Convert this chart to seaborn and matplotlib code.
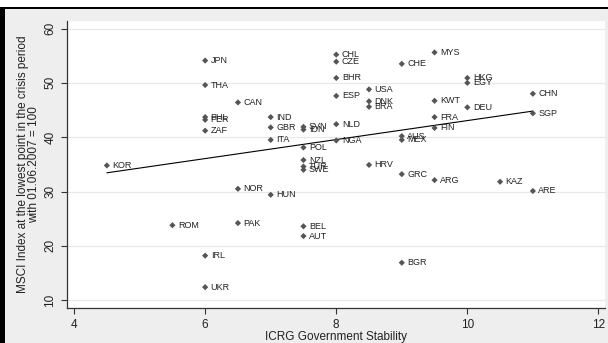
import matplotlib
matplotlib.use("Agg")
import matplotlib.pyplot as plt
import numpy as np
import pandas as pd
import seaborn as sns
from matplotlib.patches import Rectangle

# country codes, ICRG government stability, MSCI index at crisis low
countries = ["KOR", "ROM", "JPN", "THA", "PHL", "PER", "ZAF", "IRL", "UKR",
             "CAN", "NOR", "PAK", "IND", "GBR", "ITA", "HUN",
             "SVN", "IDN", "POL", "NZL", "TUR", "SWE", "BEL", "AUT",
             "CHL", "CZE", "BHR", "ESP", "NLD", "NGA",
             "USA", "DNK", "BRA", "HRV",
             "CHE", "AUS", "MEX", "GRC", "BGR",
             "MYS", "KWT", "FRA", "FIN", "ARG",
             "HKG", "EGY", "DEU", "KAZ", "CHN", "SGP", "ARE"]
stability = [4.5, 5.5, 6, 6, 6, 6, 6, 6, 6,
             6.5, 6.5, 6.5, 7, 7, 7, 7,
             7.5, 7.5, 7.5, 7.5, 7.5, 7.5, 7.5, 7.5,
             8, 8, 8, 8, 8, 8,
             8.5, 8.5, 8.5, 8.5,
             9, 9, 9, 9, 9,
             9.5, 9.5, 9.5, 9.5, 9.5,
             10, 10, 10, 10.5, 11, 11, 11]
msci_low = [34.8, 23.8, 54.1, 49.6, 43.7, 43.2, 41.2, 18.2, 12.4,
            46.4, 30.5, 24.2, 43.7, 41.8, 39.5, 29.4,
            41.9, 41.4, 38.1, 35.8, 34.6, 34.0, 23.6, 21.8,
            55.2, 53.9, 50.9, 47.6, 42.4, 39.4,
            48.8, 46.6, 45.6, 34.9,
            53.5, 40.2, 39.5, 33.2, 16.9,
            55.6, 46.7, 43.7, 41.7, 32.1,
            50.9, 50.0, 45.5, 31.8, 48.0, 44.4, 30.1]

df = pd.DataFrame({"country": countries, "x": stability, "y": msci_low})

sns.set_theme(style="white")
plt.rcParams["font.family"] = ["Liberation Sans", "DejaVu Sans"]

fig = plt.figure(figsize=(6.08, 3.43), dpi=100, facecolor="#eeeeee")
ax = fig.add_axes([0.110, 0.101, 0.885, 0.838])
ax.set_facecolor("white")

sns.scatterplot(data=df, x="x", y="y", marker="D", s=10, color="#555555",
                edgecolor="none", ax=ax, zorder=3)
sns.regplot(data=df, x="x", y="y", scatter=False, ci=None, ax=ax,
            line_kws={"color": "black", "linewidth": 0.8, "zorder": 2})

for _, r in df.iterrows():
    ax.annotate(r["country"], (r["x"], r["y"]), xytext=(4, 0),
                textcoords="offset points", va="center", ha="left",
                fontsize=6.5, color="#222222")

ax.set_xlim(3.89, 12.1)
ax.set_ylim(8.5, 61.4)
ax.set_xticks([4, 6, 8, 10, 12])
ax.set_yticks([10, 20, 30, 40, 50, 60])
ax.yaxis.grid(True, color="#e8e8e8", linewidth=0.9)
ax.xaxis.grid(False)
ax.tick_params(axis="both", direction="out", length=4, width=0.8, color="#333333",
               labelsize=8.5, labelcolor="#222222", left=True, bottom=True)
for lab in ax.get_yticklabels():
    lab.set_rotation(90)
    lab.set_va("center")

for side in ["top", "right"]:
    ax.spines[side].set_visible(False)
for side in ["left", "bottom"]:
    ax.spines[side].set_color("#333333")
    ax.spines[side].set_linewidth(0.9)

ax.set_xlabel("ICRG Government Stability", fontsize=8.5, color="#222222", labelpad=0)
ax.set_ylabel("MSCI Index at the lowest point in the crisis period\nwith 01.06.2007 = 100",
              fontsize=8.5, color="#222222", labelpad=3, linespacing=0.95)

# screenshot frame: white strip, black line on top, black band on the left
fig.add_artist(Rectangle((0, 1 - 7 / 343), 1, 7 / 343, transform=fig.transFigure,
                         facecolor="white", edgecolor="none"))
fig.add_artist(Rectangle((0, 1 - 9 / 343), 1, 2 / 343, transform=fig.transFigure,
                         facecolor="black", edgecolor="none"))
fig.add_artist(Rectangle((0, 0), 5 / 608, 1 - 7 / 343, transform=fig.transFigure,
                         facecolor="black", edgecolor="none"))

fig.savefig("out.png", dpi=100, facecolor=fig.get_facecolor())
